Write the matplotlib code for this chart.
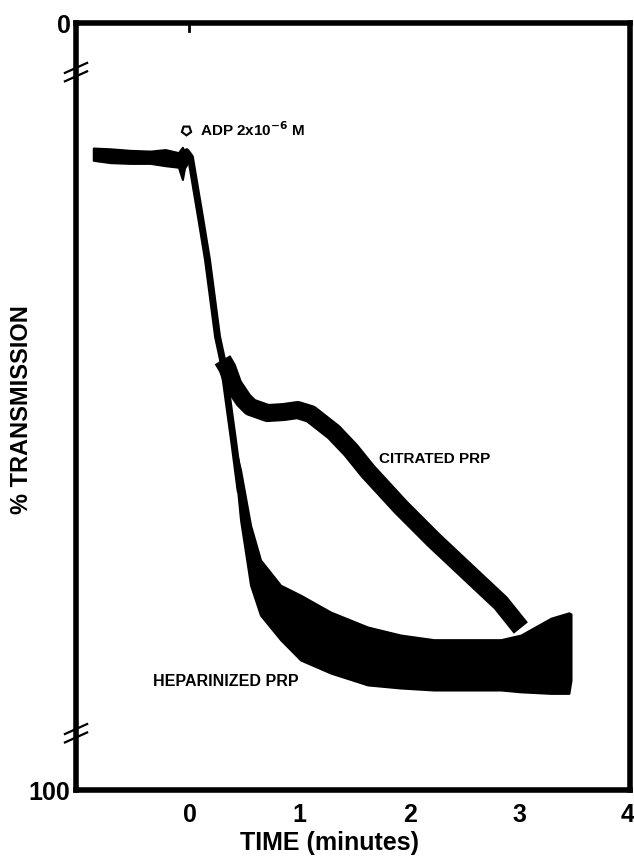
import matplotlib
matplotlib.use("Agg")
import matplotlib.pyplot as plt
import matplotlib.transforms as mtransforms

plt.rcParams['font.family'] = ['Liberation Sans', 'DejaVu Sans']
plt.rcParams['font.weight'] = 'bold'

# time in minutes, transmission in % (0 at top, 100 at bottom)
# baseline before ADP (shared by both traces)
base_t = [-0.873, -0.72, -0.54, -0.355, -0.22, -0.10, -0.064, -0.045, -0.027]
base_hi = [16.3, 16.4, 16.6, 16.7, 16.5, 16.9, 16.2, 16.8, 16.4]
base_lo = [17.9, 18.2, 18.3, 18.3, 18.6, 18.8, 20.4, 18.9, 18.5]

# common fall right after ADP
drop_t = [-0.027, 0.009, 0.10, 0.164, 0.255, 0.30]
drop_v = [16.8, 17.5, 25.3, 30.9, 40.9, 43.9]

# citrated PRP trace (centre line)
cit_t = [0.30, 0.345, 0.40, 0.491, 0.555, 0.709, 0.855, 0.982, 1.10, 1.309,
         1.464, 1.618, 1.918, 2.218, 2.527, 2.827, 3.009]
cit_v = [43.9, 45.0, 47.2, 49.15, 50.07, 50.85, 50.72, 50.46, 50.98, 53.33,
         55.67, 58.41, 63.10, 67.41, 71.58, 75.62, 78.88]

# heparinized PRP: steep part, then noisy band (upper / lower envelope)
hep_steep_t = [0.30, 0.40, 0.46]
hep_steep_v = [43.9, 54.4, 61.0]
hep_t = [0.40, 0.464, 0.555, 0.645, 0.827, 1.009, 1.282, 1.618, 1.918, 2.218,
         2.527, 2.827, 3.009, 3.282, 3.445, 3.464]
hep_hi = [54.4, 58.3, 65.5, 70.0, 73.3, 74.6, 76.8, 78.75, 79.8, 80.4,
          80.4, 80.4, 79.8, 77.6, 76.9, 77.05]
hep_lo = [55.4, 64.8, 73.3, 77.2, 80.4, 83.05, 84.75, 86.3, 86.7, 86.96,
          86.96, 86.96, 87.2, 87.4, 87.4, 85.7]

xticks = [0, 1, 2, 3, 4]
xticklabels = ['0', '1', '2', '3', '4']
yticks = [0, 100]
breaks = [6.4, 92.6]

fig = plt.figure(figsize=(6.34, 8.56), dpi=100)
ax = fig.add_axes([0.1199, 0.0771, 0.8738, 0.8960])

ax.fill_between(base_t, base_hi, base_lo, color='k', lw=1.5)
ax.plot(drop_t, drop_v, color='k', lw=5, solid_capstyle='round')
ax.plot(hep_steep_t, hep_steep_v, color='k', lw=5, solid_capstyle='round')
ax.fill_between(hep_t, hep_hi, hep_lo, color='k', lw=1.5)
ax.plot(cit_t, cit_v, color='k', lw=13, solid_capstyle='butt', solid_joinstyle='round')

# ADP marker and labels
ax.plot([-0.027], [13.95], marker=(5, 0, 180), ms=7, mfc='white', mec='k', mew=1.5)
ax.text(0.10, 13.9, r'ADP 2x10$^{\mathbf{-6}}$ M', fontsize=11, fontweight='bold', va='center')
ax.text(1.718, 56.85, 'CITRATED PRP', fontsize=11, fontweight='bold', va='center')
ax.text(-0.327, 85.8, 'HEPARINIZED PRP', fontsize=11.5, fontweight='bold', va='center')

ax.set_xlim(-1.03, 4.0)
ax.set_ylim(100, 0)
for s in ax.spines.values():
    s.set_linewidth(4)

ax.set_xticks(xticks[:4], minor=True)
ax.set_xticks(xticks)
ax.set_xticklabels(xticklabels, fontsize=18, fontweight='bold')
ax.tick_params(axis='x', which='major', length=0, pad=9)
ax.tick_params(axis='x', which='minor', direction='in', length=6, width=2)
last = ax.get_xticklabels()[-1]
last.set_horizontalalignment('right')
last.set_transform(last.get_transform() +
                   mtransforms.ScaledTranslation(3 / 72, 0, fig.dpi_scale_trans))
ax.set_yticks(yticks)
ax.set_yticklabels(['0', '100'], fontsize=18, fontweight='bold')
ax.tick_params(axis='y', length=0, pad=4)
# small mark on top axis where ADP is added
ax.plot([0, 0], [0, 1.0], color='k', lw=2)

# axis break marks on the left spine
trans = ax.get_yaxis_transform()
for b in breaks:
    for off in (-0.55, 0.55):
        ax.plot([-0.02, 0.02], [b + off + 0.65, b + off - 0.65], color='k', lw=1.6,
                transform=trans, clip_on=False)

fig.text(330 / 634, 1 - 843 / 856, 'TIME (minutes)', fontsize=18, fontweight='bold',
         ha='center', va='center')
fig.text(22 / 634, 1 - 410 / 856, '% TRANSMISSION', fontsize=17, fontweight='bold',
         ha='center', va='center', rotation=90)

fig.savefig('out.png', dpi=100)
